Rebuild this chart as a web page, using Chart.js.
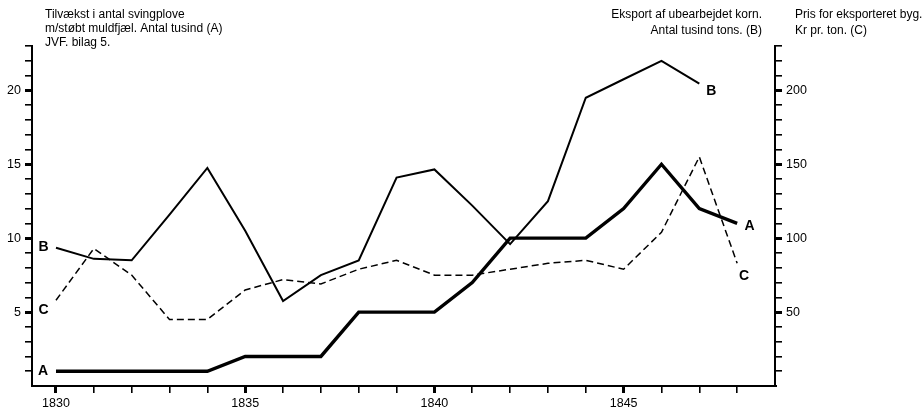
<!DOCTYPE html>
<html>
<head>
<meta charset="utf-8">
<script src="https://cdn.jsdelivr.net/npm/chart.js@4.4.1/dist/chart.umd.min.js"></script>
<style>
  html, body { margin: 0; padding: 0; background: #fff; }
  #wrap { position: relative; width: 922px; height: 409px; }
</style>
</head>
<body>
<div id="wrap"><canvas id="chart"></canvas></div>
<script>
// years on the x axis
const years = [1830, 1831, 1832, 1833, 1834, 1835, 1836, 1837, 1838, 1839,
               1840, 1841, 1842, 1843, 1844, 1845, 1846, 1847, 1848];
// A: tilvækst i antal svingplove (tusind), left axis
const plovA = [1, 1, 1, 1, 1, 2, 2, 2, 5, 5, 5, 7, 10, 10, 10, 12, 15, 12, 11];
// B: eksport af ubearbejdet korn (tusind tons), left axis, ends 1847
const eksportB = [9.35, 8.6, 8.5, 11.6, 14.75, 10.5, 5.75, 7.5, 8.5, 14.1,
                  14.65, 12.2, 9.6, 12.5, 19.5, 20.75, 22.0, 20.45];
// C: pris for eksporteret byg (kr pr. ton), right axis
const prisC = [58, 93, 75, 45, 45, 65, 72, 69, 79, 85, 75, 75, 79, 83, 85, 79, 104, 155, 83];

const leftTickLabels = [5, 10, 15, 20];
const rightTickLabels = [50, 100, 150, 200];
const yearTickLabels = [1830, 1835, 1840, 1845];

const headerLeft = ['Tilvækst i antal svingplove', 'm/støbt muldfjæl. Antal tusind (A)', 'JVF. bilag 5.'];
const headerMid = ['Eksport af ubearbejdet korn.', 'Antal tusind tons. (B)'];
const headerRight = ['Pris for eksporteret byg.', 'Kr pr. ton. (C)'];

const FONT = '"Liberation Sans", Arial, Helvetica, sans-serif';
const pts = (vals) => vals.map((v, i) => ({ x: years[i], y: v }));

const textPlugin = {
  id: 'texts',
  afterDraw(chart) {
    const ctx = chart.ctx;
    const x = chart.scales.x, y = chart.scales.y, y2 = chart.scales.y2;
    ctx.save();
    ctx.fillStyle = '#000';
    ctx.textBaseline = 'middle';
    ctx.font = '12px ' + FONT;
    ctx.textAlign = 'left';
    headerLeft.forEach((t, i) => ctx.fillText(t, 45, 15 + i * 14));
    ctx.textAlign = 'right';
    headerMid.forEach((t, i) => ctx.fillText(t, 762, 15 + i * 16));
    ctx.textAlign = 'left';
    headerRight.forEach((t, i) => ctx.fillText(t, 795, 15 + i * 16));

    // series letters beside the line ends
    ctx.font = 'bold 14px ' + FONT;
    ctx.textAlign = 'center';
    const first = years[0];
    ctx.fillText('A', x.getPixelForValue(first) - 13, y.getPixelForValue(plovA[0]));
    ctx.fillText('B', x.getPixelForValue(first) - 12.5, y.getPixelForValue(eksportB[0]) - 1);
    ctx.fillText('C', x.getPixelForValue(first) - 12.5, y2.getPixelForValue(prisC[0]) + 10);
    const lb = eksportB.length - 1, la = plovA.length - 1, lc = prisC.length - 1;
    ctx.fillText('B', x.getPixelForValue(years[lb]) + 12, y.getPixelForValue(eksportB[lb]) + 7);
    ctx.fillText('A', x.getPixelForValue(years[la]) + 12.5, y.getPixelForValue(plovA[la]) + 3);
    ctx.fillText('C', x.getPixelForValue(years[lc]) + 7, y2.getPixelForValue(prisC[lc]) + 13);
    ctx.restore();
  }
};

new Chart(document.getElementById('chart'), {
  type: 'line',
  data: {
    datasets: [
      { label: 'A', data: pts(plovA), yAxisID: 'y', borderColor: '#000', borderWidth: 3.4, pointRadius: 0, tension: 0 },
      { label: 'B', data: pts(eksportB), yAxisID: 'y', borderColor: '#000', borderWidth: 2, pointRadius: 0, tension: 0 },
      { label: 'C', data: pts(prisC), yAxisID: 'y2', borderColor: '#000', borderWidth: 1.5, borderDash: [7, 4], pointRadius: 0, tension: 0 }
    ]
  },
  options: {
    responsive: true,
    maintainAspectRatio: false,
    animation: false,
    layout: { padding: { top: 46, left: 0, right: 0, bottom: 0 } },
    plugins: { legend: { display: false }, tooltip: { enabled: false } },
    scales: {
      x: {
        type: 'linear',
        min: 1829.366,
        max: 1849,
        afterFit(s) { s.height = 23; },
        afterBuildTicks(s) { s.ticks = s.ticks.filter(t => t.value < 1849); },
        border: { display: true, color: '#000', width: 2 },
        grid: {
          drawOnChartArea: false, drawTicks: true, tickLength: 7, color: '#000',
          lineWidth: c => (yearTickLabels.includes(c.tick && c.tick.value) ? 3 : 1.6)
        },
        ticks: {
          stepSize: 1, autoSkip: false, includeBounds: false, maxRotation: 0, padding: 3,
          color: '#000', font: { family: FONT, size: 12.5 },
          callback: v => (yearTickLabels.includes(v) ? String(v) : '')
        }
      },
      y: {
        position: 'left',
        min: 0,
        max: 23,
        afterFit(s) { s.width = 32; },
        afterBuildTicks(s) { s.ticks = s.ticks.filter(t => t.value > 0); },
        border: { display: true, color: '#000', width: 2 },
        grid: {
          drawOnChartArea: false, drawTicks: true, tickLength: 7, color: '#000',
          lineWidth: c => (leftTickLabels.includes(c.tick && c.tick.value) ? 3 : 1.6)
        },
        ticks: {
          stepSize: 1, autoSkip: false, padding: 4,
          color: '#000', font: { family: FONT, size: 12.5 },
          callback: v => (leftTickLabels.includes(v) ? String(v) : '')
        }
      },
      y2: {
        position: 'right',
        min: 0,
        max: 230,
        afterFit(s) { s.width = 147; },
        afterBuildTicks(s) { s.ticks = s.ticks.filter(t => t.value > 0); },
        border: { display: true, color: '#000', width: 2 },
        grid: {
          drawOnChartArea: false, drawTicks: true, tickLength: 7, color: '#000',
          lineWidth: c => (rightTickLabels.includes(c.tick && c.tick.value) ? 3 : 1.6)
        },
        ticks: {
          stepSize: 10, autoSkip: false, padding: 4,
          color: '#000', font: { family: FONT, size: 12.5 },
          callback: v => (rightTickLabels.includes(v) ? String(v) : '')
        }
      }
    }
  },
  plugins: [textPlugin]
});
</script>
</body>
</html>
